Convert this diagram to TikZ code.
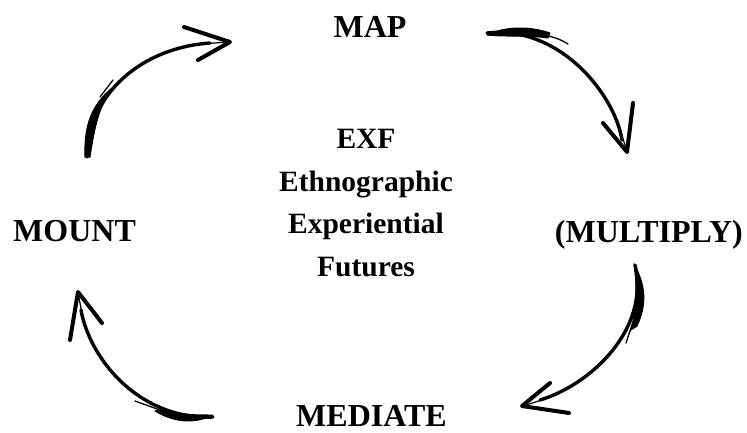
\documentclass[tikz,border=0pt]{standalone}
\usepackage{fontspec}
\setmainfont{Liberation Serif}
\begin{document}
\begin{tikzpicture}[x=1pt,y=-1pt,
  lbl/.style={inner sep=0pt,anchor=base,font=\bfseries\fontsize{32}{36}\selectfont},
  ctr/.style={inner sep=0pt,anchor=base,font=\bfseries\fontsize{29.5}{34}\selectfont},
  stroke/.style={line width=3.4pt,line cap=round,line join=round},
  head/.style={line width=4pt,line cap=round,line join=round},
  ink/.style={fill=black,draw=black,line width=1pt,line join=round}]
\useasboundingbox (0,0) rectangle (747,432);
% labels
\node[lbl] (map) at (370,37) {MAP};
\node[lbl,anchor=base west] (mount) at (13,241) {MOUNT};
\node[lbl,anchor=base east] (multiply) at (743,242) {(MULTIPLY)};
\node[lbl] (mediate) at (371.5,426) {MEDIATE};
\node[ctr] (exf) at (366,148) {EXF};
\node[ctr] (eth) at (366,191) {Ethnographic};
\node[ctr] (exp) at (366,233) {Experiential};
\node[ctr] (fut) at (366,276) {Futures};
% arrow 1 (top-left)
\draw[stroke] (87,157) .. controls (88,95) and (140,48) .. (210,43);
\draw[line width=1.2pt,line cap=round] (200,44) -- (229,42);
\draw[ink] (85,157) .. controls (84,128) and (90,106) .. (112,88) -- (110,93) .. controls (99,106) and (94,130) .. (90,157) -- cycle;
\draw[line width=1.3pt,line cap=round] (100,97) -- (113,80);
\draw[head] (184,27) -- (230,42) -- (198,60);
% arrow 2 (top-right)
\draw[stroke] (487,33) .. controls (560,25) and (615,95) .. (622,140);
\draw[line width=1.2pt,line cap=round] (620,130) -- (627,151);
\draw[ink] (487,35) .. controls (505,26) and (530,26) .. (550,33) -- (548,38) .. controls (528,35) and (506,37) .. (487,35) -- cycle;
\draw[line width=1.3pt,line cap=round] (540,35) .. controls (552,36) and (560,39) .. (568,44);
\draw[head] (633,103) -- (627,152) -- (603,123);
% arrow 3 (bottom-right)
\draw[stroke] (635,265) .. controls (650,330) and (590,385) .. (540,400);
\draw[line width=1.2pt,line cap=round] (548,398) -- (523,406);
\draw[ink] (634,264) .. controls (646,285) and (647,305) .. (637,326) -- (631,330) .. controls (637,305) and (637,285) .. (634,264) -- cycle;
\draw[line width=1.3pt,line cap=round] (633,322) -- (626,343);
\draw[head] (550,383) -- (522,406) -- (569,413);
% arrow 4 (bottom-left)
\draw[stroke] (213,417) .. controls (140,420) and (90,360) .. (81,310);
\draw[line width=1.2pt,line cap=round] (83,318) -- (78,293);
\draw[ink] (213,415) .. controls (195,424) and (175,423) .. (155,411) -- (162,409) .. controls (178,415) and (196,415) .. (213,415) -- cycle;
\draw[line width=1.3pt,line cap=round] (160,410) -- (135,401);
\draw[head] (70,340) -- (78,292) -- (102,323);
\end{tikzpicture}
\end{document}
